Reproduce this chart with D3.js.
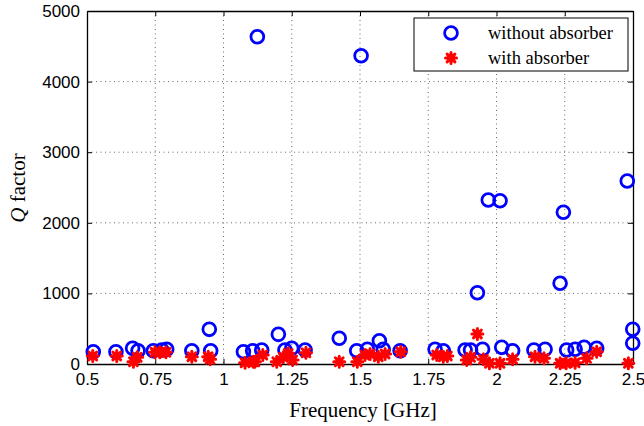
<!DOCTYPE html>
<html>
<head>
<meta charset="utf-8">
<script src="https://cdn.jsdelivr.net/npm/d3@7"></script>
<style>
  body { margin: 0; background: #fff; }
  .tick text { font-family: "Liberation Sans", Arial, sans-serif; font-size: 17px; fill: #000; }
</style>
</head>
<body>
<div id="main_output"></div>
<script>
// Q factor vs frequency
var freqNoAbs = [0.523, 0.606, 0.667, 0.687, 0.743, 0.774, 0.792, 0.884, 0.948, 0.953,
  1.073, 1.107, 1.124, 1.140, 1.201, 1.225, 1.250, 1.299, 1.424, 1.488,
  1.504, 1.527, 1.571, 1.585, 1.647, 1.775, 1.805, 1.885, 1.905, 1.930,
  1.949, 1.970, 2.013, 2.019, 2.059, 2.137, 2.178, 2.233, 2.245, 2.257,
  2.288, 2.321, 2.367, 2.479, 2.499, 2.499];
var qNoAbs = [174, 174, 222, 188, 188, 198, 208, 188, 491, 188,
  174, 188, 4636, 198, 420, 198, 222, 198, 364, 188,
  4367, 208, 330, 208, 188, 208, 188, 198, 198, 1010,
  208, 2323, 2313, 236, 188, 198, 208, 1143, 2149, 198,
  208, 236, 222, 2592, 293, 491];

var freqAbs = [0.521, 0.609, 0.670, 0.684, 0.749, 0.767, 0.789, 0.884, 0.944, 0.951,
  1.079, 1.109, 1.115, 1.144, 1.195, 1.219, 1.237, 1.253, 1.302, 1.424,
  1.490, 1.518, 1.537, 1.567, 1.592, 1.649, 1.781, 1.805, 1.820, 1.891,
  1.905, 1.930, 1.952, 1.974, 2.013, 2.059, 2.141, 2.174, 2.233, 2.255,
  2.288, 2.330, 2.367, 2.483];
var qAbs = [113, 113, 33, 95, 166, 166, 166, 103, 103, 66,
  18, 33, 33, 127, 33, 95, 151, 57, 160, 33,
  33, 127, 142, 103, 142, 174, 127, 103, 113, 57,
  95, 425, 66, 10, 10, 66, 103, 80, 10, 10,
  18, 80, 174, 10];

var xTicks = [0.5, 0.75, 1, 1.25, 1.5, 1.75, 2, 2.25, 2.5];
var xTickLabels = ["0.5", "0.75", "1", "1.25", "1.5", "1.75", "2", "2.25", "2.5"];
var yTicks = [0, 1000, 2000, 3000, 4000, 5000];
var seriesNames = ["without absorber", "with absorber"];

var width = 644, height = 426;
var plotL = 87, plotR = 633, plotT = 11, plotB = 364;
var serif = "'Liberation Serif', 'Times New Roman', serif";

var svg = d3.select("#main_output").append("svg")
  .attr("width", width)
  .attr("height", height);

var x = d3.scaleLinear().domain([0.5, 2.5]).range([plotL, plotR]);
var y = d3.scaleLinear().domain([0, 5000]).range([plotB, plotT]);

// grid
svg.append("g").selectAll("line")
  .data(xTicks.slice(1, -1))
  .enter().append("line")
  .attr("x1", function(d) { return x(d); })
  .attr("x2", function(d) { return x(d); })
  .attr("y1", plotT).attr("y2", plotB)
  .attr("stroke", "#444").attr("stroke-width", 0.8)
  .attr("stroke-dasharray", "1,3.5");

svg.append("g").selectAll("line")
  .data(yTicks.slice(1, -1))
  .enter().append("line")
  .attr("y1", function(d) { return y(d); })
  .attr("y2", function(d) { return y(d); })
  .attr("x1", plotL).attr("x2", plotR)
  .attr("stroke", "#444").attr("stroke-width", 0.8)
  .attr("stroke-dasharray", "1,3.5");

// axes, ticks inside on all four sides
var xAxis = d3.axisBottom(x).tickValues(xTicks)
  .tickFormat(function(d, i) { return xTickLabels[i]; })
  .tickSizeInner(-5).tickSizeOuter(0).tickPadding(9);
var yAxis = d3.axisLeft(y).tickValues(yTicks)
  .tickFormat(d3.format("d"))
  .tickSizeInner(-5).tickSizeOuter(0).tickPadding(7);

var gx = svg.append("g").attr("transform", "translate(0," + plotB + ")").call(xAxis);
var gy = svg.append("g").attr("transform", "translate(" + plotL + ",0)").call(yAxis);
var gxt = svg.append("g").attr("transform", "translate(0," + plotT + ")")
  .call(d3.axisTop(x).tickValues(xTicks).tickSizeInner(-5).tickSizeOuter(0).tickFormat(""));
var gyr = svg.append("g").attr("transform", "translate(" + plotR + ",0)")
  .call(d3.axisRight(y).tickValues(yTicks).tickSizeInner(-5).tickSizeOuter(0).tickFormat(""));

[gx, gy, gxt, gyr].forEach(function(g) {
  g.select(".domain").attr("stroke", "#000").attr("stroke-width", 1.3);
  g.selectAll(".tick line").attr("stroke", "#000").attr("stroke-width", 1);
});
gx.selectAll(".tick text").attr("dy", "0.68em");

// markers
var star = "M-5.5,0H5.5M0,-5.5V5.5M-3.9,-3.9L3.9,3.9M-3.9,3.9L3.9,-3.9";

svg.append("g").selectAll("circle")
  .data(freqNoAbs)
  .enter().append("circle")
  .attr("cx", function(d) { return x(d); })
  .attr("cy", function(d, i) { return y(qNoAbs[i]); })
  .attr("r", 6.4)
  .attr("fill", "none")
  .attr("stroke", "#0000ff")
  .attr("stroke-width", 2.8);

svg.append("g").selectAll("path")
  .data(freqAbs)
  .enter().append("path")
  .attr("transform", function(d, i) { return "translate(" + x(d) + "," + y(qAbs[i]) + ")"; })
  .attr("d", star)
  .attr("fill", "none")
  .attr("stroke", "#ff0000")
  .attr("stroke-width", 3)
  .attr("stroke-linecap", "round");

// legend
var legend = svg.append("g");
legend.append("rect")
  .attr("x", 414).attr("y", 18)
  .attr("width", 214).attr("height", 53)
  .attr("fill", "#fff").attr("stroke", "#000").attr("stroke-width", 1);
legend.append("circle")
  .attr("cx", 451).attr("cy", 33).attr("r", 6.4)
  .attr("fill", "none").attr("stroke", "#0000ff").attr("stroke-width", 2.8);
legend.append("path")
  .attr("transform", "translate(451,58)")
  .attr("d", star)
  .attr("fill", "none").attr("stroke", "#ff0000").attr("stroke-width", 3)
  .attr("stroke-linecap", "round");
legend.selectAll("text")
  .data(seriesNames)
  .enter().append("text")
  .attr("x", 488)
  .attr("y", function(d, i) { return 39 + i * 25; })
  .style("font-family", serif)
  .style("font-size", "18.5px")
  .text(function(d) { return d; });

// axis labels
svg.append("text")
  .attr("x", 363)
  .attr("y", 417)
  .attr("text-anchor", "middle")
  .style("font-family", serif)
  .style("font-size", "21px")
  .text("Frequency [GHz]");

var ylab = svg.append("text")
  .attr("transform", "translate(25," + 188 + ") rotate(-90)")
  .attr("text-anchor", "middle")
  .style("font-family", serif)
  .style("font-size", "21px");
ylab.append("tspan").style("font-style", "italic").text("Q");
ylab.append("tspan").text(" factor");
</script>
</body>
</html>
